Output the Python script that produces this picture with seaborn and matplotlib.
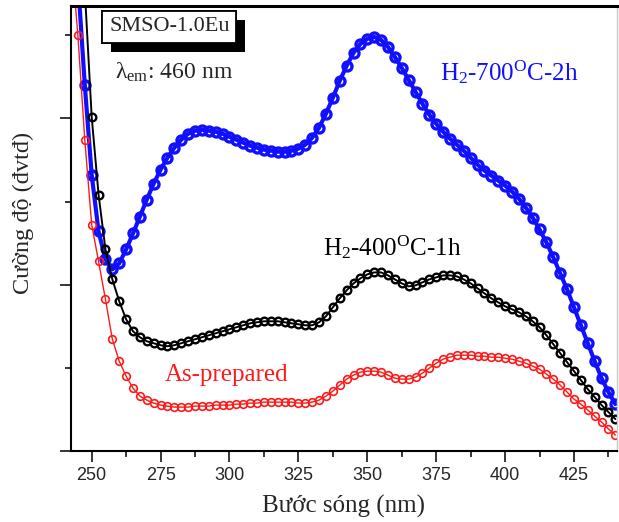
import numpy as np
import matplotlib
matplotlib.use("Agg")
import matplotlib.pyplot as plt
import matplotlib.patheffects as pe
from matplotlib.ticker import MultipleLocator
import seaborn as sns

# ---------------- data ----------------
wavelength = np.arange(242.5, 440.1, 2.5)

as_prepared = [3000, 2500, 1872, 1362, 1140, 912, 672, 540, 450, 378, 330,
               306, 288, 276, 270, 264, 264, 264, 270, 270, 270,
               276, 276, 276, 282, 282, 288, 288, 294, 294, 294,
               294, 294, 288, 288, 294, 306, 330, 360, 396, 432,
               456, 474, 480, 480, 474, 456, 438, 432, 432, 444,
               468, 498, 528, 552, 564, 576, 576, 576, 570, 570,
               564, 564, 558, 552, 540, 528, 510, 492, 462, 432,
               396, 354, 312, 282, 246, 210, 174, 132, 96]

h2_400 = [3400, 3072, 2772, 2010, 1542, 1212, 1032, 900, 792, 720, 684,
          660, 648, 636, 630, 636, 648, 660, 672, 684, 696,
          708, 720, 732, 744, 756, 768, 774, 780, 780, 780,
          774, 768, 762, 756, 756, 774, 810, 864, 918, 966,
          1008, 1038, 1062, 1074, 1074, 1056, 1032, 1008, 990, 996,
          1014, 1032, 1044, 1056, 1056, 1050, 1032, 1008, 978, 948,
          918, 894, 870, 852, 834, 810, 780, 744, 696, 642,
          588, 534, 480, 426, 372, 324, 276, 234, 192]

h2_700 = [3300, 2832, 2202, 1662, 1320, 1152, 1092, 1128, 1212, 1308, 1410,
          1512, 1608, 1692, 1764, 1824, 1872, 1908, 1926, 1932, 1926,
          1920, 1908, 1890, 1872, 1854, 1836, 1824, 1812, 1806, 1800,
          1800, 1806, 1818, 1842, 1884, 1944, 2028, 2124, 2226, 2316,
          2394, 2448, 2478, 2490, 2472, 2430, 2370, 2304, 2232, 2160,
          2088, 2022, 1968, 1920, 1878, 1842, 1806, 1764, 1722, 1686,
          1656, 1626, 1596, 1560, 1518, 1464, 1404, 1332, 1254, 1164,
          1068, 972, 864, 756, 648, 540, 438, 354, 282]

xticks = [250, 275, 300, 325, 350, 375, 400, 425]
label_700 = r"H$_2$-700$^{\mathrm{O}}$C-2h"
label_400 = r"H$_2$-400$^{\mathrm{O}}$C-1h"
label_as = "As-prepared"
sample_label = "SMSO-1.0Eu"
lambda_label = r"λ$_{\mathrm{em}}$: 460 nm"
xlabel = "Bước sóng (nm)"
ylabel = "Cường độ (đvtđ)"

# ---------------- style ----------------
sns.set_theme(style="white")
plt.rcParams['font.family'] = ['Liberation Serif', 'DejaVu Serif']
plt.rcParams['mathtext.fontset'] = 'custom'
plt.rcParams['mathtext.rm'] = 'Liberation Serif'
plt.rcParams['mathtext.it'] = 'Liberation Serif:italic'
plt.rcParams['mathtext.bf'] = 'Liberation Serif:bold'

fig = plt.figure(figsize=(6.19, 5.22), dpi=100)
ax = fig.add_axes([71/619, 1-451/522, 546/619, 445/522])

blue = "#1010ff"
red = "#ff1a1a"

sns.lineplot(x=wavelength, y=h2_700, ax=ax, color=blue, lw=3.0, marker='o',
             markersize=6.5, markerfacecolor='none', markeredgecolor=blue,
             markeredgewidth=2.4, sort=False, estimator=None)
sns.lineplot(x=wavelength, y=h2_400, ax=ax, color='black', lw=1.4, marker='o',
             markersize=5.5, markerfacecolor='none', markeredgecolor='black',
             markeredgewidth=1.7, sort=False, estimator=None)
sns.lineplot(x=wavelength, y=as_prepared, ax=ax, color=red, lw=1.0, marker='o',
             markersize=5.5, markerfacecolor='none', markeredgecolor=red,
             markeredgewidth=1.2, sort=False, estimator=None)

ax.set_xlim(242.5, 440.6)
ax.set_ylim(0, 2676)

ax.set_xticks(xticks)
ax.xaxis.set_minor_locator(MultipleLocator(12.5))
ax.yaxis.set_major_locator(MultipleLocator(1000))
ax.yaxis.set_minor_locator(MultipleLocator(500))
ax.set_yticklabels([])
ax.tick_params(axis='x', which='major', direction='out', length=8, width=1.3,
               bottom=True, labelsize=13)
ax.tick_params(axis='x', which='minor', direction='out', length=4, width=1.3, bottom=True)
ax.tick_params(axis='y', which='major', direction='out', length=8, width=1.3, left=True)
ax.tick_params(axis='y', which='minor', direction='out', length=4, width=1.3, left=True)
for lab in ax.get_xticklabels():
    lab.set_fontfamily(['Liberation Sans', 'DejaVu Sans'])

for s in ['left', 'bottom']:
    ax.spines[s].set_color('black')
    ax.spines[s].set_linewidth(1.5)
ax.spines['top'].set_color('black')
ax.spines['top'].set_linewidth(2.2)
ax.spines['right'].set_color('#c8c8c8')
ax.spines['right'].set_linewidth(1.0)

ax.set_xlabel(xlabel, fontsize=18, labelpad=8)
ax.set_ylabel(ylabel, fontsize=17.5)
ax.yaxis.set_label_coords(-0.068, 0.535)

# annotations
t = ax.text(256.3, 2550, sample_label, fontsize=16, ha='left', va='center',
            bbox=dict(boxstyle='square,pad=0.3', facecolor='white',
                      edgecolor='black', linewidth=1.3))
t.get_bbox_patch().set_path_effects([
    pe.withSimplePatchShadow(offset=(6.5, -6.5), shadow_rgbFace='black', alpha=1.0),
    pe.Normal()])
ax.text(258.5, 2280, lambda_label, fontsize=17, ha='left', va='center')
ax.text(376.5, 2280, label_700, fontsize=18, ha='left', va='center', color=blue)
ax.text(334.0, 1224, label_400, fontsize=18, ha='left', va='center', color='black')
ax.text(276.6, 456, label_as, fontsize=18, ha='left', va='center', color=red)

fig.savefig("out.png", dpi=100)
